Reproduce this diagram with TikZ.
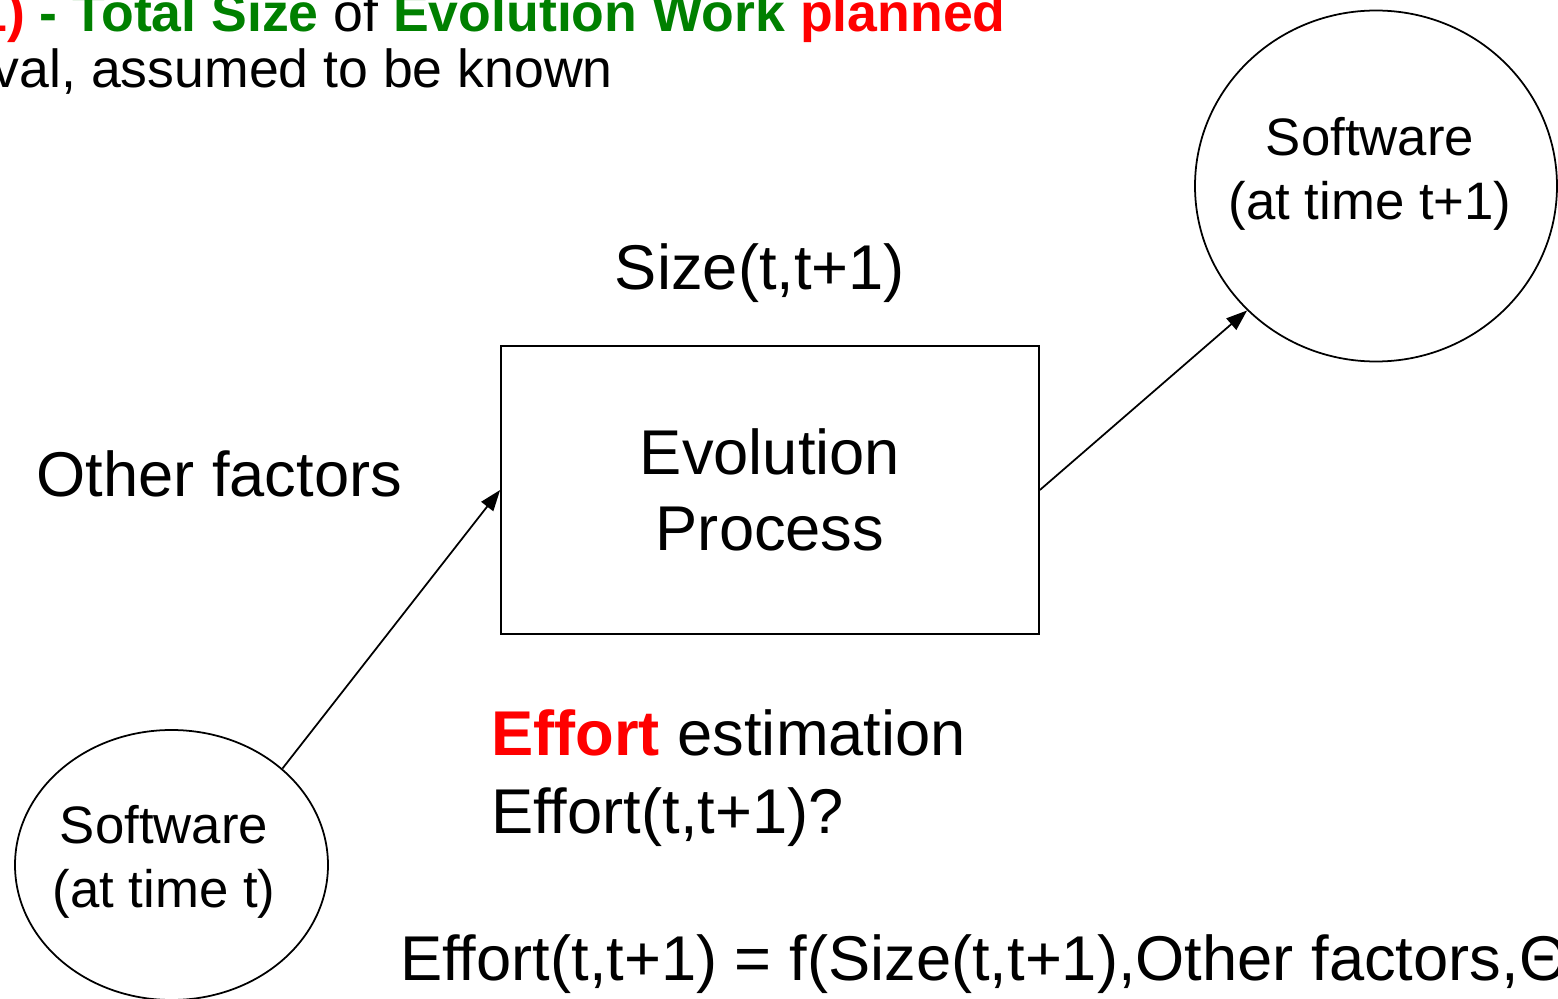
\documentclass[tikz,border=0pt]{standalone}
\usepackage{fontspec}
\setmainfont{Liberation Sans}
\usepackage{tikz}
\usetikzlibrary{arrows.meta,shapes.geometric}
\usepackage{xcolor}
\definecolor{hotred}{RGB}{255,0,0}
\definecolor{darkgreen}{RGB}{0,128,0}

\tikzset{
    bigtext/.style={inner sep=0pt, font=\fontsize{36}{43}\selectfont},
    toptext/.style={inner sep=0pt, font=\fontsize{30.5}{36}\selectfont},
    softtext/.style={inner sep=0pt, align=center, font=\fontsize{30}{36.5}\selectfont},
    swcircle/.style={draw, ellipse, line width=1pt, inner sep=0pt},
    flow/.style={line width=1pt, -{Triangle[length=0.42cm, width=0.3cm]}}
}

\begin{document}
\begin{tikzpicture}
    \useasboundingbox (0,0) rectangle (31.16,-19.98);
    \clip (0,0) rectangle (31.16,-19.98);

    % Kopfzeilen (abgeschnitten)
    \node[toptext, anchor=base east] (head1) at (20.12,-0.64)
        {\bfseries\textcolor{hotred}{1)} \textcolor{darkgreen}{- Total Size} \mdseries of \bfseries\textcolor{darkgreen}{Evolution Work} \textcolor{hotred}{planned}};
    \node[toptext, anchor=base east] (head2) at (12.26,-1.76) {val, assumed to be known};

    % Prozess
    \node[draw, line width=1pt, minimum width=10.76cm, minimum height=5.76cm,
          bigtext, align=center] (proc) at (15.4,-9.8) {Evolution\\Process};
    \node[bigtext, anchor=base] (size) at (15.2,-5.8) {Size(t,t+1)};
    \node[bigtext, anchor=base west] (other) at (0.72,-9.94) {Other factors};

    % Software vorher / nachher
    \node[swcircle, minimum width=6.26cm, minimum height=5.4cm] (swold) at (3.43,-17.3) {};
    \node[softtext] (swoldtxt) at (3.28,-17.24) {Software\\(at time t)};
    \node[swcircle, minimum width=7.24cm, minimum height=7.02cm] (swnew) at (27.52,-3.72) {};
    \node[softtext] (swnewtxt) at (27.4,-3.48) {Software\\(at time t+1)};

    \draw[flow] (swold.41) -- (proc.west);
    \draw[flow] (proc.east) -- (swnew.224);

    % Aufwand
    \node[bigtext, anchor=base west] (effort) at (9.82,-15.1)
        {\textbf{\textcolor{hotred}{Effort}} estimation};
    \node[bigtext, anchor=base west] (effortq) at (9.82,-16.66) {Effort(t,t+1)?};
    \node[bigtext, anchor=base west] (formula) at (8.0,-19.6)
        {Effort(t,t+1) = f(Size(t,t+1),Other factors,Θ};
\end{tikzpicture}
\end{document}
